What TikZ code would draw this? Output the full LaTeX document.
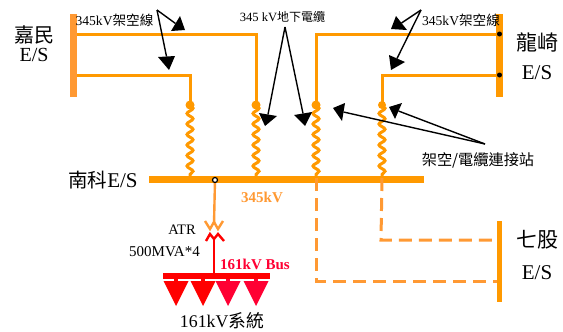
\documentclass[tikz,border=0pt]{standalone}
\usepackage{fontspec}
\setmainfont{Liberation Serif}
\newfontfamily\cjk{Noto Sans CJK TC}
\usetikzlibrary{decorations.pathmorphing,calc}
\definecolor{wire}{HTML}{FF9900}
\definecolor{barL}{HTML}{FF9933}
\definecolor{busred}{HTML}{FF0033}
\tikzset{
  x=1pt,y=-1pt,
  bar/.style={fill=#1,draw=none,inner sep=0,outer sep=0},
  line/.style={draw=wire,line width=3pt,line join=miter},
  coil/.style={draw=wire,line width=3pt,decorate,decoration={snake,amplitude=3pt,segment length=10.5pt}},
  dashline/.style={draw=barL,line width=3pt,dash pattern=on 13pt off 7pt},
  joint/.style={circle,fill=wire,minimum size=9pt,inner sep=0},
  bdot/.style={circle,fill=black,minimum size=5pt,inner sep=0},
  callout/.style={draw=black,line width=1.4pt},
  txt/.style={inner sep=0,text=black,anchor=center},
}
\newcommand{\headto}[4]{\fill[black] (#1) -- (#2) -- (#3) -- cycle; \draw[callout] (#4) -- ($(#2)!0.5!(#3)$);}
\begin{document}
\begin{tikzpicture}
\useasboundingbox (0,0) rectangle (563,332);
% bars
\node[bar=barL,minimum width=7pt,minimum height=83pt] (jm) at (73.5,55.5) {};
\node[bar=wire,minimum width=7pt,minimum height=83pt] (lq) at (499.5,55.5) {};
\node[bar=wire,minimum width=5pt,minimum height=81pt] (qg) at (499.5,261.5) {};
\node[bar=wire,minimum width=275pt,minimum height=7pt] (nk) at (286.5,179.5) {};
% joints
\node[joint] (j1) at (190,105) {};
\node[joint] (j2) at (256,105) {};
\node[joint] (j3) at (316,105) {};
\node[joint,minimum size=8pt] (j4) at (382,105) {};
\coordinate (b1) at (190,178);
\coordinate (b2) at (256,178);
\coordinate (b3) at (316,178);
\coordinate (b4) at (382,178);
% overhead lines
\draw[line] (j2.center) |- (jm.east |- 0,34);
\draw[line] (j1.center) |- (jm.east |- 0,75);
\draw[line] (j3.center) |- (lq.center |- 0,34);
\draw[line] (j4.center) |- (lq.center |- 0,75);
\node[bdot] at (499.5,34) {};
\node[bdot] at (499.5,75) {};
% coils
\foreach \a/\b in {j1/b1,j2/b2,j3/b3,j4/b4}{\draw[coil] (\a.center) -- (\b);}
% dashed
\draw[dashline] (b3) -- (316,281) -- (qg.west |- 0,281);
\draw[dashline] (b4) -- (381,240) -- (qg.west |- 0,240);
% ATR
\coordinate (atrO) at (214,224);
\coordinate (atrR) at (214,238);
\node[circle,draw=black,fill=white,line width=1.2pt,minimum size=5pt,inner sep=0] (tap) at (215,180) {};
\draw[draw=barL,line width=2.4pt] (tap) -- (atrO);
\draw[draw=barL,line width=2.4pt] (205,221) -- (210,229) -- (214,222) -- (218,229) -- (223,221);
\draw[draw=red,line width=2.4pt] (206,241) -- (210,234) -- (214,239) -- (218,234) -- (224,241);
\node[bar=red,minimum width=107pt,minimum height=6pt] (rb) at (216.5,276) {};
\draw[draw=red,line width=2.6pt] (atrR) -- (rb.north -| atrR);
% sinks
\foreach \x/\c in {176/red,203/red,228/busred,256/busred}{
  \fill[\c] (\x-2,279) rectangle (\x+2,282);
  \fill[\c] (\x-12.5,281) -- (\x+12.5,281) -- (\x,306) -- cycle;
}
% callouts
\coordinate (s1) at (157,10);
\coordinate (s2) at (285,27);
\coordinate (s3) at (421,10);
\coordinate (s4) at (485,144);
\headto{185,30}{180,16}{171,31}{s1}
\headto{169,70}{158,57}{175,56}{s1}
\headto{265,126}{259,113}{277,116}{s2}
\headto{305,126}{294,115}{312,112}{s2}
\headto{391,29}{396,16}{407,30}{s3}
\headto{391,70}{389,55}{405,62}{s3}
\headto{333,108}{345,103}{342,121}{s4}
\headto{389,107}{402,103}{395,119}{s4}
% labels
\node[txt,font=\fontsize{13.6}{14}\selectfont] (t1) at (114.5,20) {345kV{\cjk 架空線}};
\node[txt,font=\fontsize{12.6}{13}\selectfont] (t2) at (282.5,17) {345 kV{\cjk\fontsize{12}{13}\selectfont 地下電纜}};
\node[txt,font=\fontsize{13.6}{14}\selectfont] (t3) at (461,20) {345kV{\cjk 架空線}};
\node[txt,font=\fontsize{15.2}{16}\selectfont] (t4) at (478,160) {\cjk 架空/電纜連接站};
\node[txt,font=\cjk\fontsize{20}{20}\selectfont] (t5) at (34,34.5) {嘉民};
\node[txt,font=\fontsize{20}{20}\selectfont] (t6) at (34,55) {E/S};
\node[txt,font=\cjk\fontsize{21}{21}\selectfont] (t7) at (537,43) {龍崎};
\node[txt,font=\fontsize{21}{21}\selectfont] (t8) at (537,73) {E/S};
\node[txt,font=\cjk\fontsize{21}{21}\selectfont] (t9) at (537,240) {七股};
\node[txt,font=\fontsize{21}{21}\selectfont] (t10) at (537,273) {E/S};
\node[txt,font=\fontsize{21}{21}\selectfont] (t11) at (103,180) {{\cjk\fontsize{19.5}{21}\selectfont 南科}E/S};
\node[txt,font=\bfseries\fontsize{15}{15}\selectfont,text=barL] (t12) at (262,197) {345kV};
\node[txt,font=\fontsize{14.5}{15}\selectfont] (t13) at (182,230) {ATR};
\node[txt,font=\fontsize{15}{15}\selectfont] (t14) at (164.5,252) {500MVA*4};
\node[txt,font=\bfseries\fontsize{15}{15}\selectfont,text=busred] (t15) at (255,264) {161kV Bus};
\node[txt,font=\fontsize{17.8}{18}\selectfont] (t16) at (222,320.5) {161kV{\cjk 系統}};
\end{tikzpicture}
\end{document}
